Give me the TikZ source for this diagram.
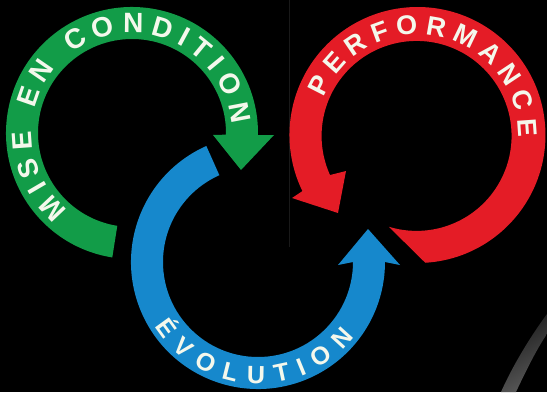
\documentclass[tikz,border=0pt]{standalone}
\usepackage{fontspec}
\setmainfont{Liberation Sans}
\usetikzlibrary{decorations.text}
\definecolor{ringgreen}{HTML}{129C48}
\definecolor{ringblue}{HTML}{1688CC}
\definecolor{ringred}{HTML}{E41C26}
\definecolor{lettering}{HTML}{F4F8EC}
\tikzset{
  ringtext/.style 2 args={decorate,decoration={text along path,
    text align={fit to path},
    text color=lettering,
    text={|\fontsize{#1}{#1}\selectfont\bfseries|#2}}}
}
\begin{document}
\begin{tikzpicture}[x=1pt,y=1pt]
\useasboundingbox (0,0) rectangle (547,392);
\fill[black] (0,0) rectangle (547,392);
% faint vertical seam
\draw[color=black!90!white,line width=0.6pt] (289.5,392) -- (289.5,145);
% streak lower right
\shade[left color=black!90!white,right color=black!65!white,shading angle=30]
  (547,78) .. controls (530,55) and (512,25) .. (501,0) -- (516,0) .. controls (524,17) and (536,42) .. (547,58) -- cycle;
% green
\begin{scope}[shift={(132,259)}]
\fill[ringgreen] (261:126) arc[start angle=261,end angle=-1,radius=126]
  -- (142,-2) -- (109,-37) -- (81,-2) -- (-1:94)
  arc[start angle=-1,end angle=261,radius=94] -- cycle;
\path[ringtext={28}{MISE EN CONDITION}] (230:100) arc[start angle=230,end angle=5,radius=100];
\end{scope}
% blue
\begin{scope}[shift={(258,130)}]
\fill[ringblue] (114:127) arc[start angle=114,end angle=360,radius=127]
  -- (142,-3) -- (110,33) -- (80,-3) -- (95,0)
  arc[start angle=0,end angle=-246,radius=95] -- cycle;
\path[ringtext={25}{ÉVOLUTION}] (212:122) arc[start angle=212,end angle=322,radius=122];
\end{scope}
% red
\begin{scope}[shift={(417.5,256.5)}]
\fill[ringred] (-86.5:127.5) arc[start angle=-86.5,end angle=206,radius=128]
  -- (-125.5,-62.5) -- (-79.5,-77.5) -- (-71.5,-35.5) -- (-87.5,-39.5)
  arc[start angle=204.3,end angle=90,radius=95]
  arc[start angle=90,end angle=-107,radius=95] -- cycle;
\path[ringtext={27}{PERFORMANCE}] (158:101) arc[start angle=158,end angle=-1,radius=101];
\end{scope}
\end{tikzpicture}
\end{document}
